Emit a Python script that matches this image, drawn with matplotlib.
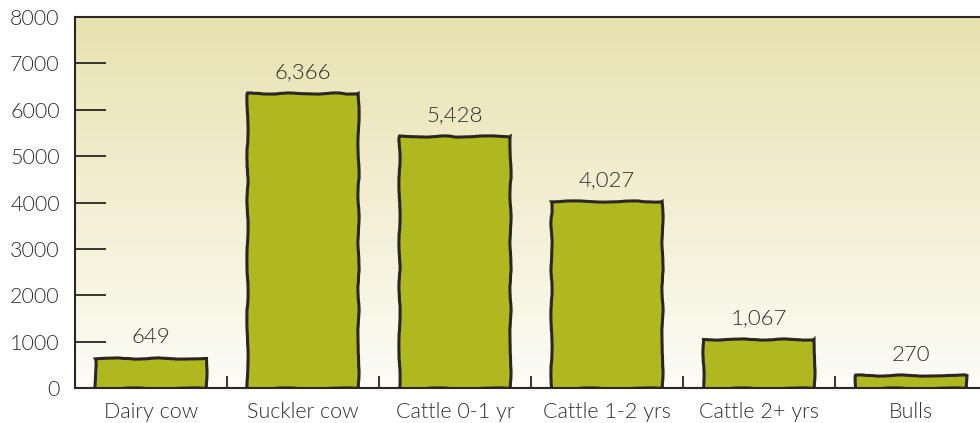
import numpy as np
import matplotlib
matplotlib.use("Agg")
import matplotlib.pyplot as plt
from matplotlib.ticker import FixedLocator

# data
categories = ["Dairy cow", "Suckler cow", "Cattle 0-1 yr", "Cattle 1-2 yrs",
              "Cattle 2+ yrs", "Bulls"]
head_counts = [649, 6366, 5428, 4027, 1067, 270]
y_ticks = [0, 1000, 2000, 3000, 4000, 5000, 6000, 7000, 8000]

BAR_COLOR = "#afb81f"
EDGE_COLOR = "#2a2622"
TEXT_COLOR = "#2e2e2e"

plt.rcParams["font.family"] = ["Lato", "DejaVu Sans"]
plt.rcParams["font.weight"] = 300

fig = plt.figure(figsize=(9.8, 4.23), dpi=100)
ax = fig.add_axes([0.0765, 0.0827, 0.9306, 0.877])

# beige to off-white gradient behind the bars
grad = np.linspace(0, 1, 256).reshape(-1, 1)
top = np.array([232, 226, 176]) / 255
bottom = np.array([253, 252, 246]) / 255
img = top * (1 - grad[..., None]) + bottom * grad[..., None]
img = np.repeat(img, 2, axis=1)
ax.imshow(img, extent=(0, 1, 0, 1), transform=ax.transAxes,
          aspect="auto", zorder=0)

x = np.arange(len(categories))
bars = ax.bar(x, head_counts, width=0.73, color=BAR_COLOR,
              edgecolor=EDGE_COLOR, linewidth=2.2, zorder=2)
for b in bars:
    b.set_sketch_params(scale=0.6, length=120, randomness=10)

# value labels above each bar
for xi, v in zip(x, head_counts):
    ax.text(xi, v + 230, f"{v:,}", ha="center", va="bottom",
            fontsize=16, color=TEXT_COLOR, zorder=3)

ax.set_xlim(-0.5, len(categories) - 0.5)
ax.set_ylim(0, 8000)

ax.set_yticks(y_ticks)
ax.tick_params(axis="y", direction="in", length=22, width=1.3,
               color=EDGE_COLOR, labelsize=15.5, labelcolor=TEXT_COLOR, pad=11)

ax.set_xticks(x)
ax.set_xticklabels(categories)
ax.xaxis.set_minor_locator(FixedLocator(x[:-1] + 0.5))
ax.tick_params(axis="x", which="major", length=0, labelsize=15.5,
               labelcolor=TEXT_COLOR, pad=10)
ax.tick_params(axis="x", which="minor", direction="in", length=9,
               width=1.3, color=EDGE_COLOR)

for side in ["left", "bottom", "top"]:
    ax.spines[side].set_color(EDGE_COLOR)
    ax.spines[side].set_linewidth(1.5)
    ax.spines[side].set_zorder(4)
ax.spines["right"].set_visible(False)

fig.savefig("out.png", dpi=100)
